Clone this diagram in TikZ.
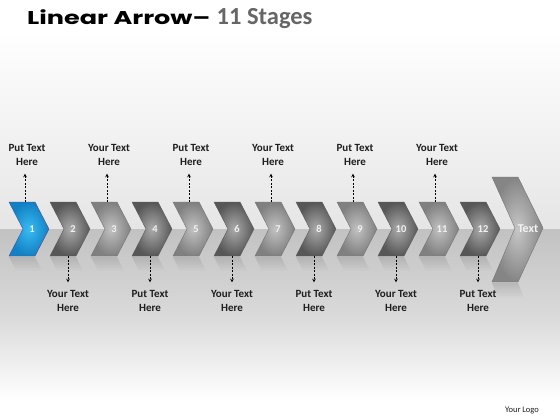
\documentclass[tikz,border=0pt]{standalone}
\usepackage{fontspec}
\setmainfont{Carlito}
\newfontfamily\titlefont{Poppins}
\usetikzlibrary{arrows,positioning,fadings}

\definecolor{stagegray}{HTML}{666666}
\definecolor{labeltext}{HTML}{1E1E1E}
\definecolor{numtext}{HTML}{F2F2F2}

\begin{document}
\begin{tikzpicture}[x=1pt, y=-1pt, >=stealth,
        chevblue/.style={draw=blue!40!black!70, line width=0.4pt, inner color={rgb,255:red,56;green,188;blue,242}, outer color={rgb,255:red,18;green,128;blue,196}},
        chevdark/.style={draw=black!65, line width=0.4pt, inner color=black!33, outer color=black!66},
        chevlight/.style={draw=black!55, line width=0.4pt, inner color=black!24, outer color=black!50},
        num/.style={text=numtext, font=\bfseries\fontsize{10.5}{11}\selectfont, inner sep=1pt},
        lbl/.style={align=center, text=labeltext, inner sep=2pt, font=\bfseries\fontsize{11}{13.5}\selectfont},
        dashline/.style={->, dashed, dash pattern=on 2pt off 1.5pt, line width=0.7pt, shorten >=6pt}
    ]
        \useasboundingbox (0,0) rectangle (560,420);

        % background, floor below the middle line
        \fill[top color=white, bottom color=black!10] (0,30) rectangle (560,229);
        \fill[white] (0,0) rectangle (560,30);
        \fill[top color=black!24, bottom color=black!14] (0,229) rectangle (560,320);
        \fill[top color=black!14, bottom color=white] (0,320) rectangle (560,400);
        \fill[white] (0,400) rectangle (560,420);

        % Title
        \node[anchor=base west, inner sep=0pt] (ttl) at (27,25)
            {\titlefont\bfseries\fontsize{18.5}{20}\selectfont\scalebox{1.38}[1]{Linear Arrow–}};
        \node[base right=6pt of ttl, inner sep=0pt, text=stagegray, font=\bfseries\fontsize{24.5}{25}\selectfont] (stages) {11 Stages};

        % Small chevrons 1..12
        \foreach \i/\s in {1/chevblue,2/chevdark,3/chevlight,4/chevdark,5/chevlight,6/chevdark,
                           7/chevlight,8/chevdark,9/chevlight,10/chevdark,11/chevlight,12/chevdark} {
            \pgfmathsetmacro{\xl}{9+41*(\i-1)}
            \fill[black!45, opacity=0.35, path fading=south] (\xl,257) -- ++(26,0) -- ++(7,14) -- ++(-26,0) -- cycle;
            \draw[\s] (\xl,202) -- ++(26,0) -- ++(14,27) -- ++(-14,27) -- ++(-26,0) -- ++(14,-27) -- cycle;
            \node[num] (n\i) at (\xl+23,229) {\i};
            \coordinate (up\i) at (\xl+16,202);
            \coordinate (dn\i) at (\xl+18,256);
        }

        % Big chevron
        \fill[black!45, opacity=0.35, path fading=south] (492,283) -- (518,283) -- (524,298) -- (498,298) -- cycle;
        \draw[chevlight, inner color=black!22, outer color=black!48] (492,177) -- (518,177) -- (543,228) -- (518,282) -- (492,282) -- (515,228) -- cycle;
        \node[num, font=\bfseries\fontsize{12}{13}\selectfont] (txt) at (528,229) {Text};

        % Labels above
        \foreach \i/\w in {1/Put,3/Your,5/Put,7/Your,9/Put,11/Your} {
            \pgfmathsetmacro{\xl}{9+41*(\i-1)}
            \node[lbl] (t\i) at (\xl+18,155) {\w{} Text\\Here};
            \draw[dashline] (up\i) -- (up\i |- t\i.south);
        }

        % Labels below
        \foreach \i/\w in {2/Your,4/Put,6/Your,8/Put,10/Your,12/Put} {
            \pgfmathsetmacro{\xl}{9+41*(\i-1)}
            \node[lbl] (b\i) at (\xl+18,301) {\w{} Text\\Here};
            \draw[dashline] (dn\i) -- (dn\i |- b\i.north);
        }

        \node[text=labeltext, font=\fontsize{8.5}{9}\selectfont] (logo) at (522,411) {Your Logo};
    \end{tikzpicture}
\end{document}
